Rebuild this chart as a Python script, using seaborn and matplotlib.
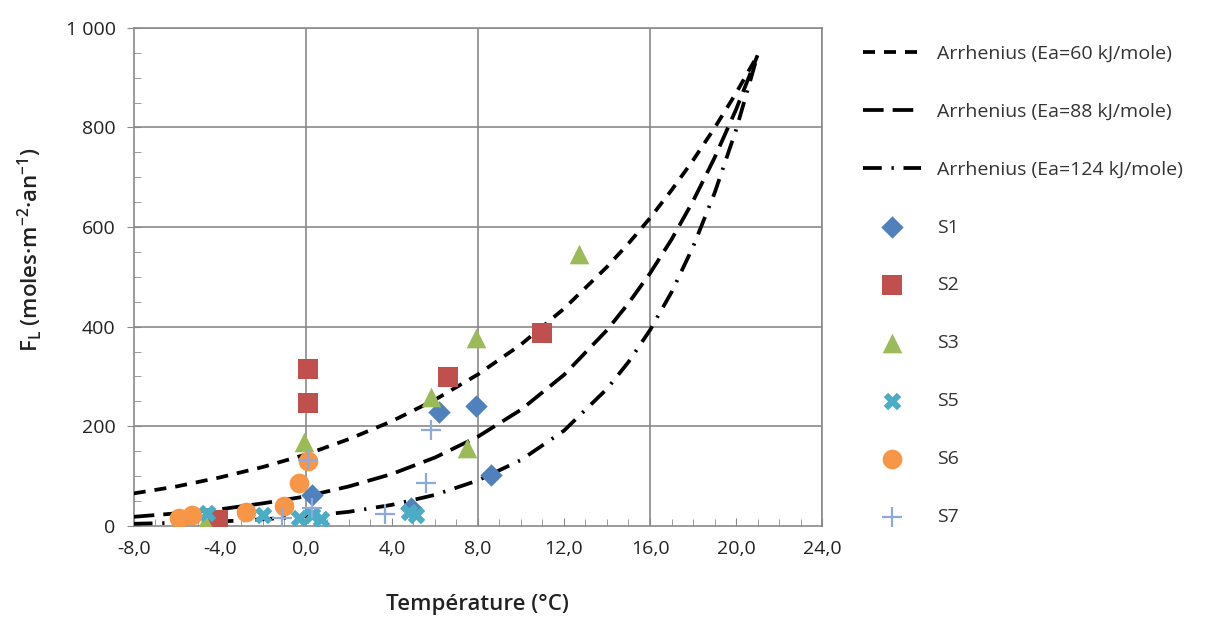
import numpy as np
import pandas as pd
import seaborn as sns
import matplotlib.pyplot as plt
import matplotlib.ticker as mticker

# Arrhenius curves (temperature in degC, flux)
curve_t = [-8, -6, -4, -2, 0, 2, 4, 6, 8, 10, 12, 14, 15, 16, 17, 18, 19, 20, 21]
ea60 = [65, 79, 97, 118, 143, 174, 210, 253, 304, 364, 436, 520, 567, 618, 674, 734, 799, 869, 945]
ea88 = [18, 25, 33, 45, 59, 79, 104, 137, 179, 233, 303, 393, 447, 507, 575, 652, 739, 836, 945]
ea124 = [4, 6, 8.5, 13, 19, 28, 42, 62, 91, 132, 191, 275, 329, 393, 469, 560, 668, 795, 945]

# measured points per site
s1_t = [0.3, 4.9, 6.2, 7.9, 8.6]
s1_f = [62, 35, 229, 240, 102]
s2_t = [-4.1, 0.1, 0.1, 6.6, 11.0]
s2_f = [12, 315, 247, 299, 388]
s3_t = [-4.7, -0.1, 5.8, 7.5, 7.9, 12.7]
s3_f = [5, 168, 258, 157, 377, 545]
s5_t = [-4.6, -2.0, -0.3, 0.3, 0.7, 4.8, 5.1]
s5_f = [25, 22, 15, 22, 14, 28, 22]
s6_t = [-5.9, -5.3, -2.8, -1.0, -0.3, 0.1]
s6_f = [15, 22, 28, 40, 85, 130]
s7_t = [-1.1, 0.1, 0.3, 3.7, 5.6, 5.8]
s7_f = [16, 132, 35, 24, 86, 193]

curve_labels = ['Arrhenius (Ea=60 kJ/mole)', 'Arrhenius (Ea=88 kJ/mole)', 'Arrhenius (Ea=124 kJ/mole)']

sns.set_style('white')
plt.rcParams['font.family'] = ['Open Sans', 'DejaVu Sans']

fig = plt.figure(figsize=(12.27, 6.2), dpi=100)
ax = fig.add_axes([0.109, 0.152, 0.561, 0.803])

grid_c = '#8a8a8a'
for gx in np.arange(0, 25, 8):
    ax.axvline(gx, color=grid_c, lw=1.2, zorder=0)
for gy in np.arange(200, 1001, 200):
    ax.axhline(gy, color=grid_c, lw=1.2, zorder=0)

lw = 2.7
styles = [(0, (3.2, 2.4)), (0, (5.5, 2.4)), (0, (5.0, 2.6, 0.6, 2.6))]
for vals, lab, ls in zip([ea60, ea88, ea124], curve_labels, styles):
    sns.lineplot(x=curve_t, y=vals, ax=ax, color='black', lw=lw, linestyle=ls,
                 label=lab, legend=False, errorbar=None, sort=False, zorder=3)

series = [
    ('S1', s1_t, s1_f, 'D', '#4F81BD', 130),
    ('S2', s2_t, s2_f, 's', '#C0504D', 190),
    ('S3', s3_t, s3_f, '^', '#9BBB59', 200),
    ('S5', s5_t, s5_f, 'X', '#4BACC6', 160),
    ('S6', s6_t, s6_f, 'o', '#F79646', 200),
]
for name, t, f, m, c, s in series:
    sns.scatterplot(x=t, y=f, ax=ax, marker=m, color=c, s=s, linewidth=0,
                    label=name, legend=False, zorder=4)
sns.scatterplot(x=s7_t, y=s7_f, ax=ax, marker='+', color='#8EA9DB', s=200,
                linewidth=1.6, label='S7', legend=False, zorder=5)

ax.set_xlim(-8, 24)
ax.set_ylim(0, 1000)
ax.xaxis.set_major_locator(mticker.MultipleLocator(4))
ax.xaxis.set_minor_locator(mticker.MultipleLocator(1))
ax.yaxis.set_major_locator(mticker.MultipleLocator(200))
ax.yaxis.set_minor_locator(mticker.MultipleLocator(50))
ax.xaxis.set_major_formatter(mticker.FuncFormatter(lambda v, p: f'{v:.1f}'.replace('.', ',')))
ax.yaxis.set_major_formatter(mticker.FuncFormatter(lambda v, p: f'{int(v):,}'.replace(',', ' ')))
ax.tick_params(axis='x', which='major', direction='in', length=6, color=grid_c, labelsize=14, pad=10, labelcolor='#222222')
ax.tick_params(axis='x', which='minor', direction='in', length=5, color=grid_c)
ax.tick_params(axis='y', which='major', direction='inout', length=10, color=grid_c, labelsize=14, pad=8, labelcolor='#222222')
ax.tick_params(axis='y', which='minor', direction='in', length=5, color=grid_c)
ax.tick_params(bottom=True, left=True, which='both')
for sp in ax.spines.values():
    sp.set_color(grid_c)
    sp.set_linewidth(1.2)

ax.set_xlabel('Température (°C)', fontsize=16, fontweight='semibold', color='#222222', labelpad=26)
ax.set_ylabel('F$_\\mathregular{L}$ (moles·m$^\\mathregular{-2}$·an$^\\mathregular{-1}$)', fontsize=16,
              fontweight='semibold', color='#222222')
ax.yaxis.set_label_coords(-0.13, 0.555)

handles, labels = ax.get_legend_handles_labels()
fig.legend(handles, labels, loc='upper left', bbox_to_anchor=(0.697, 0.94), frameon=False,
           fontsize=14, labelspacing=2.05, handlelength=3.0, handletextpad=0.8,
           labelcolor='#333333', borderaxespad=0)

fig.savefig('out.png', dpi=100, facecolor='white')
